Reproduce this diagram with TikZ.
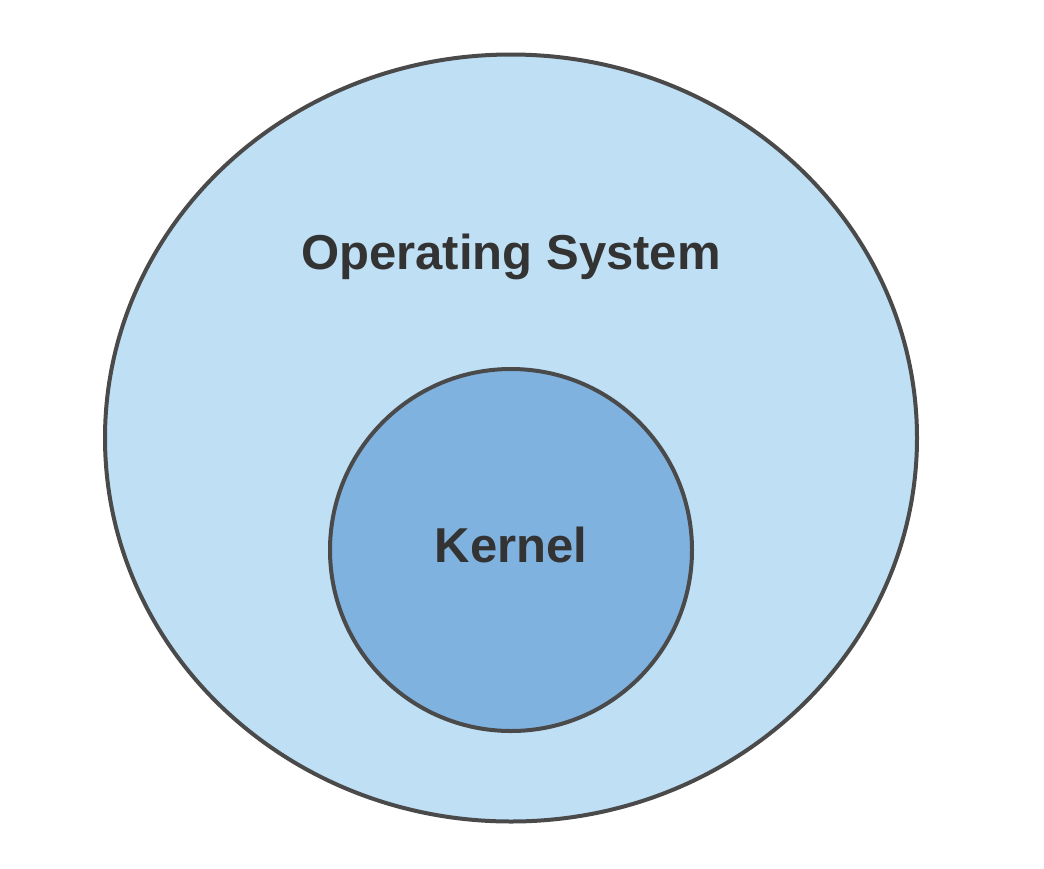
\documentclass[tikz,border=0pt]{standalone}
\usepackage{fontspec}
\setmainfont{Liberation Sans}
\usetikzlibrary{shapes.geometric}
\definecolor{osfill}{HTML}{BFDFF5}
\definecolor{kfill}{HTML}{80B2E0}
\definecolor{edge}{HTML}{4A4A4A}
\definecolor{txt}{HTML}{333333}
\tikzset{
  blob/.style={draw=edge, line width=4pt},
  lbl/.style={text=txt, font=\fontsize{49}{58}\selectfont\bfseries, inner sep=0pt}
}
\begin{document}
\begin{tikzpicture}[x=1pt,y=-1pt]
\useasboundingbox (0,0) rectangle (1044,868);
\fill[white] (0,0) rectangle (1044,868);
\node[blob, fill=osfill, ellipse, minimum width=812pt, minimum height=767pt, inner sep=0pt] (os) at (511,438) {};
\node[blob, fill=kfill, circle, minimum size=362pt, inner sep=0pt] (kernel) at (511,550) {};
\node[lbl] (oslabel) at (511,257) {Operating System};
\node[lbl] (klabel) at (511,545) {Kernel};
\end{tikzpicture}
\end{document}
